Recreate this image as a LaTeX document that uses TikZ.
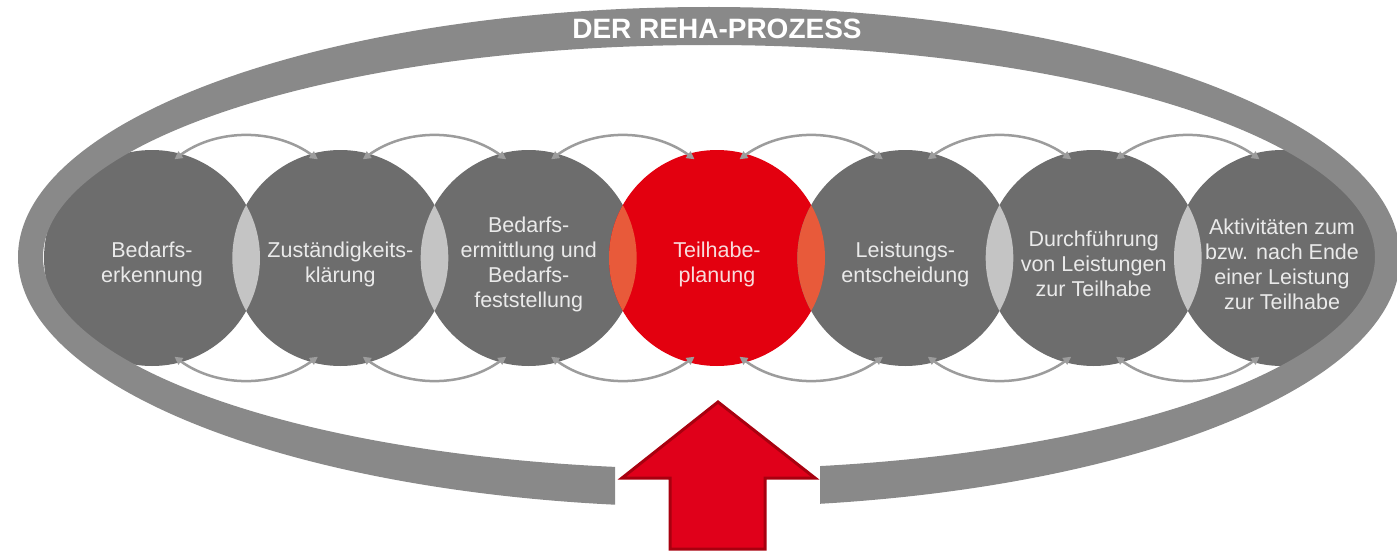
\documentclass[tikz,border=0pt]{standalone}
\usepackage{fontspec}
\setmainfont{Liberation Sans}
\usetikzlibrary{arrows.meta,calc}
\definecolor{ringgray}{HTML}{898989}
\definecolor{circgray}{HTML}{6D6D6D}
\definecolor{lensgray}{HTML}{C4C4C4}
\definecolor{rehared}{HTML}{E3000F}
\definecolor{lensred}{HTML}{E85A3A}
\definecolor{arcgray}{HTML}{9C9C9C}
\definecolor{arrowred}{HTML}{E0001A}
\definecolor{arrowborder}{HTML}{A8000F}
\definecolor{labelgray}{HTML}{EAEAEA}
\definecolor{labelred}{HTML}{F8DCDC}
\begin{document}
\begin{tikzpicture}[x=1pt,y=1pt,
  stage/.style={circle, minimum size=216pt, inner sep=0pt, outer sep=0pt, fill=circgray},
  focus/.style={stage, fill=rehared},
  stagetext/.style={align=center, text=labelgray, font=\fontsize{21.5}{25}\selectfont},
  focustext/.style={stagetext, text=labelred},
  link/.style={draw=arcgray, line width=2.5pt, {Triangle[length=8pt,width=8pt]}-{Triangle[length=8pt,width=8pt]}},
]
\useasboundingbox (0,0) rectangle (1397,-551);
\fill[white] (0,0) rectangle (1397,-551);

% stage circles
\node[stage] (c1) at (152,-258) {};
\node[stage] (c2) at (340.33,-258) {};
\node[stage] (c3) at (528.67,-258) {};
\node[focus] (c4) at (717,-258) {};
\node[stage] (c5) at (905.33,-258) {};
\node[stage] (c6) at (1093.67,-258) {};
\node[stage] (c7) at (1282,-258) {};

% overlaps
\begin{scope}\clip (c1) circle[radius=108]; \fill[lensgray] (c2) circle[radius=108];\end{scope}
\begin{scope}\clip (c2) circle[radius=108]; \fill[lensgray] (c3) circle[radius=108];\end{scope}
\begin{scope}\clip (c3) circle[radius=108]; \fill[lensred] (c4) circle[radius=108];\end{scope}
\begin{scope}\clip (c4) circle[radius=108]; \fill[lensred] (c5) circle[radius=108];\end{scope}
\begin{scope}\clip (c5) circle[radius=108]; \fill[lensgray] (c6) circle[radius=108];\end{scope}
\begin{scope}\clip (c6) circle[radius=108]; \fill[lensgray] (c7) circle[radius=108];\end{scope}

% outer ring with gap at the bottom
\begin{scope}
\clip (-5,5) -- (1402,5) -- (1402,-556) -- (820,-556) -- (820,-420) -- (615,-420) -- (615,-556) -- (-5,-556) -- cycle;
\fill[ringgray, even odd rule] (709,-257) ellipse[x radius=691, y radius=250] (709,-257) ellipse[x radius=666, y radius=212];
\end{scope}

% connectors
\coordinate (m1) at ($(c1)!.5!(c2)$);
\coordinate (m2) at ($(c2)!.5!(c3)$);
\coordinate (m3) at ($(c3)!.5!(c4)$);
\coordinate (m4) at ($(c4)!.5!(c5)$);
\coordinate (m5) at ($(c5)!.5!(c6)$);
\coordinate (m6) at ($(c6)!.5!(c7)$);
\foreach \m in {m1,m2,m3,m4,m5,m6}{
  \draw[link] ($(\m)+(126:122)$) arc[start angle=126, end angle=54, radius=122];
  \draw[link] ($(\m)+(234:122)$) arc[start angle=234, end angle=306, radius=122];
}

% labels
\node[stagetext] (t1) at ($(c1)+(0,-6)$) {Bedarfs-\\erkennung};
\node[stagetext] (t2) at ($(c2)+(0,-6)$) {Zuständigkeits-\\klärung};
\node[stagetext] (t3) at ($(c3)+(0,-6)$) {Bedarfs-\\ermittlung und\\Bedarfs-\\feststellung};
\node[focustext] (t4) at ($(c4)+(0,-6)$) {Teilhabe-\\planung};
\node[stagetext] (t5) at ($(c5)+(0,-6)$) {Leistungs-\\entscheidung};
\node[stagetext] (t6) at ($(c6)+(0,-6)$) {Durchführung\\von Leistungen\\zur Teilhabe};
\node[stagetext] (t7) at ($(c7)+(0,-6)$) {Aktivitäten zum\\bzw. nach Ende\\einer Leistung\\zur Teilhabe};

% title
\node[anchor=base, inner sep=0pt, text=white, font=\bfseries\fontsize{28}{30}\selectfont] (title) at (717,-39) {DER REHA-PROZESS};

% big red arrow
\draw[fill=arrowred, draw=arrowborder, line width=3pt, line join=miter]
  (718,-402) -- (815,-478) -- (765,-478) -- (765,-549) -- (670,-549) -- (670,-478) -- (622,-478) -- cycle;
\end{tikzpicture}
\end{document}
